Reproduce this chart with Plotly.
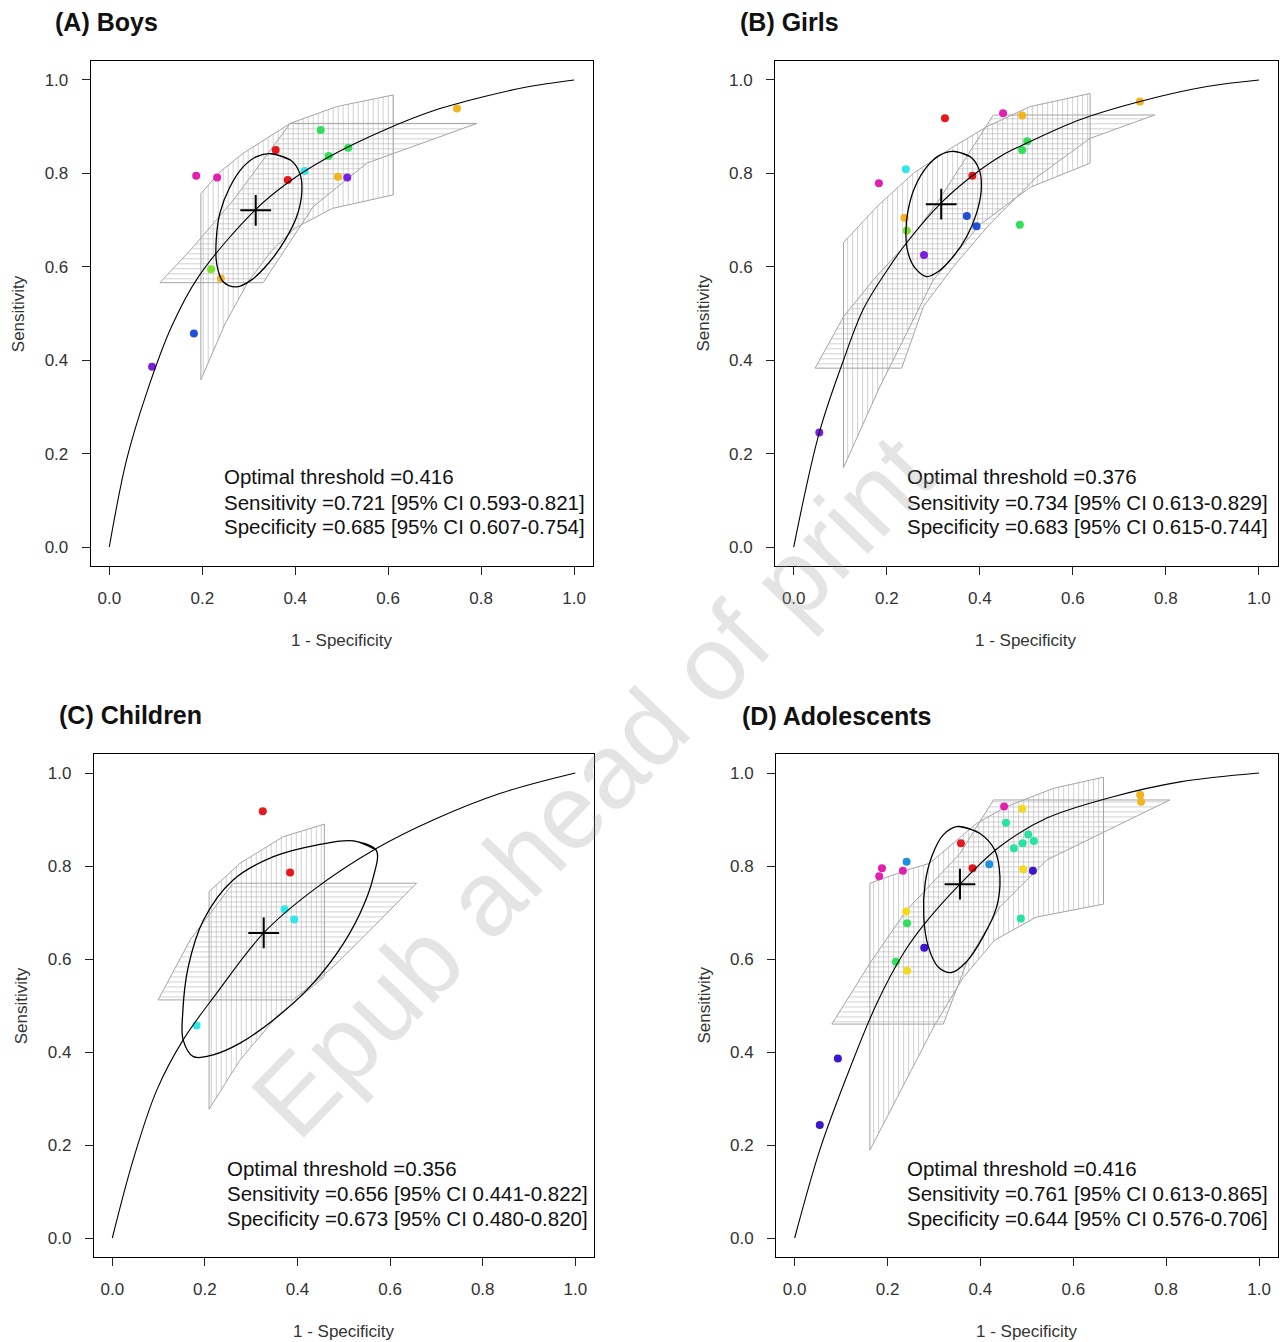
import plotly.graph_objects as go

W, H = 1288, 1342

# ---------------- data ----------------
tick_vals = [0.0, 0.2, 0.4, 0.6, 0.8, 1.0]
tick_text = ["0.0", "0.2", "0.4", "0.6", "0.8", "1.0"]
panel_titles = ["(A) Boys", "(B) Girls", "(C) Children", "(D) Adolescents"]
x_title = "1 - Specificity"
y_title = "Sensitivity"
watermark = "Epub ahead of print"

RED, MAG, BLU, PUR, YEL, GRN, LGR, CYN = "#e8171b", "#e31fb0", "#1f4fd8", "#7a1fe0", "#f2b51d", "#2ee05a", "#7de02a", "#33e6ea"
DPU, SKY, LYE, TEA = "#3a16cc", "#1e90e0", "#f5d820", "#26e3a0"

# Panel A (Boys)
A_curve_x = [0.0, 0.037, 0.080, 0.134, 0.192, 0.313, 0.384, 0.472, 0.597, 0.697, 0.805, 0.898, 1.0]
A_curve_y = [0.0, 0.186, 0.329, 0.472, 0.579, 0.721, 0.780, 0.835, 0.895, 0.934, 0.964, 0.985, 1.0]
A_ell_x = [0.349, 0.389, 0.410, 0.414, 0.403, 0.378, 0.342, 0.306, 0.274, 0.245, 0.231, 0.230, 0.238, 0.260, 0.288, 0.317]
A_ell_y = [0.842, 0.829, 0.800, 0.757, 0.707, 0.657, 0.607, 0.572, 0.557, 0.568, 0.607, 0.657, 0.715, 0.772, 0.814, 0.836]
A_vb_up_x = [0.197, 0.240, 0.288, 0.389, 0.489, 0.611]
A_vb_up_y = [0.757, 0.805, 0.843, 0.907, 0.943, 0.968]
A_vb_lo_x = [0.197, 0.250, 0.300, 0.350, 0.400, 0.480, 0.611]
A_vb_lo_y = [0.358, 0.480, 0.570, 0.635, 0.683, 0.725, 0.754]
A_hb_left_x = [0.109, 0.181, 0.267, 0.389]
A_hb_left_y = [0.566, 0.643, 0.743, 0.907]
A_hb_right_x = [0.331, 0.382, 0.439, 0.554, 0.791]
A_hb_right_y = [0.566, 0.643, 0.729, 0.822, 0.907]
A_pts_x = [0.748, 0.455, 0.358, 0.514, 0.472, 0.420, 0.187, 0.232, 0.384, 0.492, 0.512, 0.219, 0.240, 0.182, 0.092]
A_pts_y = [0.939, 0.893, 0.850, 0.855, 0.837, 0.805, 0.795, 0.791, 0.786, 0.793, 0.791, 0.595, 0.575, 0.457, 0.386]
A_pts_c = [YEL, GRN, RED, GRN, GRN, CYN, MAG, MAG, RED, YEL, PUR, LGR, YEL, BLU, PUR]
A_cross = [0.315, 0.721]
A_text = ["Optimal threshold =0.416",
          "Sensitivity =0.721 [95% CI 0.593-0.821]",
          "Specificity =0.685 [95% CI 0.607-0.754]"]

# Panel B (Girls)
B_curve_x = [0.0, 0.055, 0.107, 0.150, 0.199, 0.243, 0.317, 0.384, 0.450, 0.501, 0.615, 0.744, 0.888, 1.0]
B_curve_y = [0.0, 0.245, 0.400, 0.510, 0.590, 0.652, 0.737, 0.795, 0.840, 0.865, 0.915, 0.954, 0.986, 1.0]
B_ell_x = [0.343, 0.379, 0.399, 0.403, 0.393, 0.372, 0.343, 0.311, 0.286, 0.261, 0.246, 0.241, 0.246, 0.261, 0.286, 0.314]
B_ell_y = [0.847, 0.836, 0.807, 0.764, 0.715, 0.665, 0.622, 0.590, 0.579, 0.597, 0.629, 0.672, 0.722, 0.772, 0.814, 0.839]
B_vb_up_x = [0.107, 0.180, 0.257, 0.343, 0.415, 0.508, 0.637]
B_vb_up_y = [0.652, 0.730, 0.800, 0.857, 0.900, 0.943, 0.971]
B_vb_lo_x = [0.107, 0.185, 0.300, 0.400, 0.508, 0.637]
B_vb_lo_y = [0.170, 0.343, 0.572, 0.690, 0.770, 0.822]
B_hb_left_x = [0.046, 0.107, 0.171, 0.243, 0.307, 0.429]
B_hb_left_y = [0.383, 0.493, 0.572, 0.650, 0.735, 0.925]
B_hb_right_x = [0.232, 0.279, 0.343, 0.420, 0.520, 0.637, 0.776]
B_hb_right_y = [0.383, 0.515, 0.600, 0.690, 0.790, 0.875, 0.925]
B_pts_x = [0.744, 0.450, 0.491, 0.325, 0.502, 0.491, 0.241, 0.384, 0.183, 0.238, 0.372, 0.393, 0.486, 0.243, 0.280, 0.055]
B_pts_y = [0.954, 0.929, 0.924, 0.918, 0.869, 0.850, 0.809, 0.795, 0.779, 0.705, 0.709, 0.687, 0.690, 0.677, 0.625, 0.245]
B_pts_c = [YEL, MAG, YEL, RED, GRN, GRN, CYN, RED, MAG, YEL, BLU, BLU, GRN, LGR, PUR, PUR]
B_cross = [0.317, 0.734]
B_text = ["Optimal threshold =0.376",
          "Sensitivity =0.734 [95% CI 0.613-0.829]",
          "Specificity =0.683 [95% CI 0.615-0.744]"]

# Panel C (Children)
C_curve_x = [0.0, 0.045, 0.096, 0.153, 0.225, 0.327, 0.434, 0.571, 0.693, 0.837, 1.0]
C_curve_y = [0.0, 0.168, 0.318, 0.426, 0.526, 0.656, 0.748, 0.838, 0.899, 0.956, 1.0]
C_ell_x = [0.570, 0.521, 0.441, 0.348, 0.261, 0.197, 0.164, 0.152, 0.153, 0.175, 0.218, 0.276, 0.348, 0.420, 0.485, 0.535, 0.564]
C_ell_y = [0.834, 0.854, 0.845, 0.820, 0.770, 0.684, 0.583, 0.483, 0.426, 0.390, 0.394, 0.419, 0.469, 0.533, 0.612, 0.698, 0.777]
C_vb_up_x = [0.209, 0.276, 0.369, 0.458]
C_vb_up_y = [0.745, 0.806, 0.863, 0.890]
C_vb_lo_x = [0.209, 0.276, 0.355, 0.458]
C_vb_lo_y = [0.277, 0.383, 0.476, 0.562]
C_hb_left_x = [0.099, 0.168, 0.261]
C_hb_left_y = [0.512, 0.641, 0.763]
C_hb_right_x = [0.391, 0.477, 0.564, 0.657]
C_hb_right_y = [0.512, 0.583, 0.669, 0.763]
C_pts_x = [0.325, 0.384, 0.372, 0.393, 0.182]
C_pts_y = [0.918, 0.786, 0.707, 0.685, 0.457]
C_pts_c = [RED, RED, CYN, CYN, CYN]
C_cross = [0.327, 0.656]
C_text = ["Optimal threshold =0.356",
          "Sensitivity =0.656 [95% CI 0.441-0.822]",
          "Specificity =0.673 [95% CI 0.480-0.820]"]

# Panel D (Adolescents)
D_curve_x = [0.0, 0.054, 0.112, 0.177, 0.234, 0.281, 0.356, 0.442, 0.543, 0.686, 0.830, 1.0]
D_curve_y = [0.0, 0.189, 0.347, 0.505, 0.612, 0.677, 0.761, 0.842, 0.903, 0.949, 0.981, 1.0]
D_ell_x = [0.352, 0.399, 0.431, 0.442, 0.435, 0.406, 0.370, 0.338, 0.309, 0.288, 0.278, 0.281, 0.295, 0.320]
D_ell_y = [0.885, 0.870, 0.834, 0.777, 0.712, 0.648, 0.594, 0.571, 0.583, 0.626, 0.691, 0.763, 0.820, 0.867]
D_vb_up_x = [0.162, 0.241, 0.291, 0.392, 0.457, 0.557, 0.665]
D_vb_up_y = [0.763, 0.791, 0.806, 0.892, 0.928, 0.967, 0.991]
D_vb_lo_x = [0.162, 0.230, 0.300, 0.363, 0.430, 0.520, 0.665]
D_vb_lo_y = [0.189, 0.320, 0.455, 0.560, 0.640, 0.690, 0.718]
D_hb_left_x = [0.080, 0.162, 0.241, 0.356, 0.428]
D_hb_left_y = [0.460, 0.591, 0.705, 0.827, 0.942]
D_hb_right_x = [0.320, 0.370, 0.442, 0.543, 0.808]
D_hb_right_y = [0.460, 0.591, 0.712, 0.813, 0.942]
D_pts_x = [0.744, 0.746, 0.451, 0.490, 0.455, 0.503, 0.515, 0.491, 0.472, 0.358, 0.383, 0.419, 0.241,
           0.188, 0.182, 0.233, 0.492, 0.513, 0.240, 0.487, 0.242, 0.279, 0.218, 0.242, 0.093, 0.054]
D_pts_y = [0.953, 0.938, 0.928, 0.923, 0.893, 0.868, 0.854, 0.849, 0.838, 0.849, 0.795, 0.804, 0.809,
           0.795, 0.778, 0.790, 0.793, 0.790, 0.702, 0.687, 0.677, 0.624, 0.594, 0.575, 0.386, 0.243]
D_pts_c = [YEL, YEL, MAG, LYE, TEA, TEA, TEA, TEA, TEA, RED, RED, SKY, SKY,
           MAG, MAG, MAG, LYE, DPU, LYE, TEA, GRN, DPU, GRN, LYE, DPU, DPU]
D_cross = [0.356, 0.761]
D_text = ["Optimal threshold =0.416",
          "Sensitivity =0.761 [95% CI 0.613-0.865]",
          "Specificity =0.644 [95% CI 0.576-0.706]"]

# ---------------- layout geometry (pixels) ----------------
boxes = [(90.7, 592.7, 61.3, 565.7), (775.1, 1277.6, 61.3, 565.7),
         (93.8, 593.8, 754.4, 1256.6), (776.1, 1277.6, 754.4, 1256.6)]
title_pos = [(53, 22), (738, 22), (57, 715), (740, 716)]
text_x = [0.243, 0.239, 0.243, 0.238]
text_y = [0.150, 0.096, 0.043]

panels = [
    (A_curve_x, A_curve_y, A_ell_x, A_ell_y, A_vb_up_x, A_vb_up_y, A_vb_lo_x, A_vb_lo_y,
     A_hb_left_x, A_hb_left_y, A_hb_right_x, A_hb_right_y, A_pts_x, A_pts_y, A_pts_c, A_cross, A_text),
    (B_curve_x, B_curve_y, B_ell_x, B_ell_y, B_vb_up_x, B_vb_up_y, B_vb_lo_x, B_vb_lo_y,
     B_hb_left_x, B_hb_left_y, B_hb_right_x, B_hb_right_y, B_pts_x, B_pts_y, B_pts_c, B_cross, B_text),
    (C_curve_x, C_curve_y, C_ell_x, C_ell_y, C_vb_up_x, C_vb_up_y, C_vb_lo_x, C_vb_lo_y,
     C_hb_left_x, C_hb_left_y, C_hb_right_x, C_hb_right_y, C_pts_x, C_pts_y, C_pts_c, C_cross, C_text),
    (D_curve_x, D_curve_y, D_ell_x, D_ell_y, D_vb_up_x, D_vb_up_y, D_vb_lo_x, D_vb_lo_y,
     D_hb_left_x, D_hb_left_y, D_hb_right_x, D_hb_right_y, D_pts_x, D_pts_y, D_pts_c, D_cross, D_text),
]

FONT = "Liberation Sans, Arial, Helvetica, sans-serif"
HATCH = "#a4a4a4"

def px(x):
    return x / W

def py(y):
    return 1 - y / H

fig = go.Figure()
layout = dict(width=W, height=H, margin=dict(l=0, r=0, t=0, b=0),
              paper_bgcolor="white", plot_bgcolor="white", showlegend=False,
              font=dict(family=FONT, color="#222"))
annotations = []

for i, p in enumerate(panels):
    (cx, cy, ex, ey, vux, vuy, vlx, vly, hlx, hly, hrx, hry, ptx, pty, ptc, cross, txt) = p
    n = "" if i == 0 else str(i + 1)
    xa, ya = "x" + n, "y" + n
    l, r, t, b = boxes[i]
    axis_common = dict(range=[-0.04, 1.04], showgrid=False, zeroline=False, showline=True,
                       linecolor="black", linewidth=1, mirror=True, ticks="outside", ticklen=8,
                       tickwidth=1, tickcolor="#222", tickvals=tick_vals, ticktext=tick_text,
                       tickfont=dict(family=FONT, size=17, color="#333"), fixedrange=True)
    layout["xaxis" + n] = dict(axis_common, domain=[px(l), px(r)], anchor=ya, ticklabelstandoff=9)
    layout["yaxis" + n] = dict(axis_common, domain=[py(b), py(t)], anchor=xa, ticklabelstandoff=10)

    vb_x = list(vux) + list(reversed(vlx)) + [vux[0]]
    vb_y = list(vuy) + list(reversed(vly)) + [vuy[0]]
    fig.add_trace(go.Scatter(x=vb_x, y=vb_y, xaxis=xa, yaxis=ya, mode="lines", fill="toself",
                             fillcolor="rgba(0,0,0,0)",
                             fillpattern=dict(shape="|", fgcolor=HATCH, bgcolor="rgba(0,0,0,0)", size=5, solidity=0.2),
                             line=dict(color=HATCH, width=1), hoverinfo="skip"))
    hb_x = list(hlx) + list(reversed(hrx)) + [hlx[0]]
    hb_y = list(hly) + list(reversed(hry)) + [hly[0]]
    fig.add_trace(go.Scatter(x=hb_x, y=hb_y, xaxis=xa, yaxis=ya, mode="lines", fill="toself",
                             fillcolor="rgba(0,0,0,0)",
                             fillpattern=dict(shape="-", fgcolor=HATCH, bgcolor="rgba(0,0,0,0)", size=5, solidity=0.2),
                             line=dict(color=HATCH, width=1), hoverinfo="skip"))
    fig.add_trace(go.Scatter(x=ptx, y=pty, xaxis=xa, yaxis=ya, mode="markers",
                             marker=dict(color=ptc, size=8, line=dict(width=0))))
    fig.add_trace(go.Scatter(x=cx, y=cy, xaxis=xa, yaxis=ya, mode="lines",
                             line=dict(color="black", width=1.1, shape="spline", smoothing=1.0)))
    fig.add_trace(go.Scatter(x=list(ex) + [ex[0], ex[1]], y=list(ey) + [ey[0], ey[1]], xaxis=xa, yaxis=ya,
                             mode="lines", line=dict(color="black", width=1.3, shape="spline", smoothing=1.0)))
    fig.add_trace(go.Scatter(x=[cross[0]], y=[cross[1]], xaxis=xa, yaxis=ya, mode="markers",
                             marker=dict(symbol="cross-thin", size=22, line=dict(color="black", width=2))))

    for k, line in enumerate(txt):
        annotations.append(dict(x=text_x[i], y=text_y[k], xref=xa, yref=ya, text=line, showarrow=False,
                                xanchor="left", yanchor="middle",
                                font=dict(family=FONT, size=20.5, color="#111")))
    tx, ty = title_pos[i]
    annotations.append(dict(x=px(tx), y=py(ty), xref="paper", yref="paper", text="<b>%s</b>" % panel_titles[i],
                            showarrow=False, xanchor="left", yanchor="middle",
                            font=dict(family=FONT, size=25, color="#111")))
    annotations.append(dict(x=px((l + r) / 2), y=py(b + 74.5), xref="paper", yref="paper", text=x_title,
                            showarrow=False, xanchor="center", yanchor="middle",
                            font=dict(family=FONT, size=17, color="#333")))
    annotations.append(dict(x=px(l - 72), y=py((t + b) / 2), xref="paper", yref="paper", text=y_title,
                            showarrow=False, xanchor="center", yanchor="middle", textangle=-90,
                            font=dict(family=FONT, size=17, color="#333")))

annotations.append(dict(x=px(592), y=py(786), xref="paper", yref="paper", text=watermark, showarrow=False,
                        xanchor="center", yanchor="middle", textangle=-46,
                        font=dict(family=FONT, size=106, color="rgba(150,150,150,0.26)")))

layout["annotations"] = annotations
fig.update_layout(**layout)
fig.write_html("out.html", config={"displayModeBar": False, "staticPlot": True},
               post_script="document.body.style.margin='0';document.body.style.padding='0';document.body.style.overflow='hidden';")
